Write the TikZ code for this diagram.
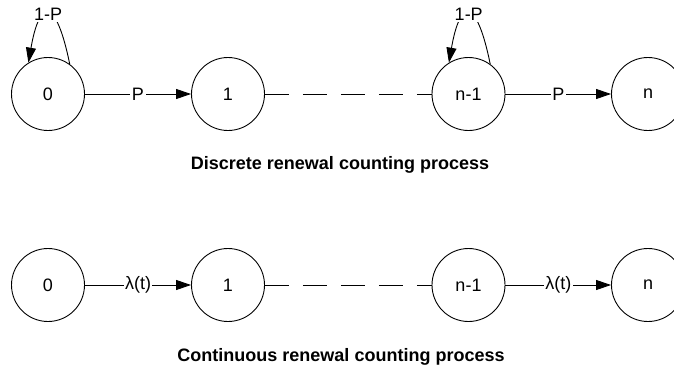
\documentclass[tikz,border=0pt]{standalone}
\usepackage{fontspec}
\setmainfont{Liberation Sans}
\usetikzlibrary{arrows.meta}
\begin{document}
\begin{tikzpicture}[x=1bp,y=1bp,
  every node/.style={font=\fontsize{18.07}{21}\selectfont},
  state/.style={draw, circle, line width=0.9bp, minimum size=73bp, inner sep=0pt},
  link/.style={line width=0.9bp},
  arr/.style={link, -{Triangle[length=15bp,width=10bp]}},
  gapline/.style={link, dash pattern=on 24bp off 14bp},
  lbl/.style={fill=white, inner sep=1.5bp},
  caption/.style={font=\fontsize{18.07}{21}\selectfont\bfseries}]
\useasboundingbox (0,0) rectangle (674,370);
\clip (0,0) rectangle (674,370);

% discrete process
\node[state] (d0) at (48,276) {0};
\node[state] (d1) at (228,276) {1};
\node[state] (dm) at (468.5,276) {n-1};
\node[state] (dn) at (648,276) {n};

\draw[arr] (d0) -- node[lbl]{P} (d1);
\draw[gapline] (d1) -- (dm);
\draw[arr] (dm) -- node[lbl]{P} (dn);

\draw[arr] (d0.54) .. controls +(-13.5,66.5) and +(11.3,65) .. (d0.122)
  node[lbl, pos=0.5]{1-P};
\draw[arr] (dm.54) .. controls +(-13.5,66.5) and +(11.3,65) .. (dm.122)
  node[lbl, pos=0.5]{1-P};

\node[caption] (cap1) at (340,205) {Discrete renewal counting process};

% continuous process
\node[state] (c0) at (48,85) {0};
\node[state] (c1) at (228,85) {1};
\node[state] (cm) at (468.5,85) {n-1};
\node[state] (cn) at (648,85) {n};

\draw[arr] (c0) -- node[lbl]{λ(t)} (c1);
\draw[gapline] (c1) -- (cm);
\draw[arr] (cm) -- node[lbl]{λ(t)} (cn);

\node[caption] (cap2) at (341,13) {Continuous renewal counting process};
\end{tikzpicture}
\end{document}
